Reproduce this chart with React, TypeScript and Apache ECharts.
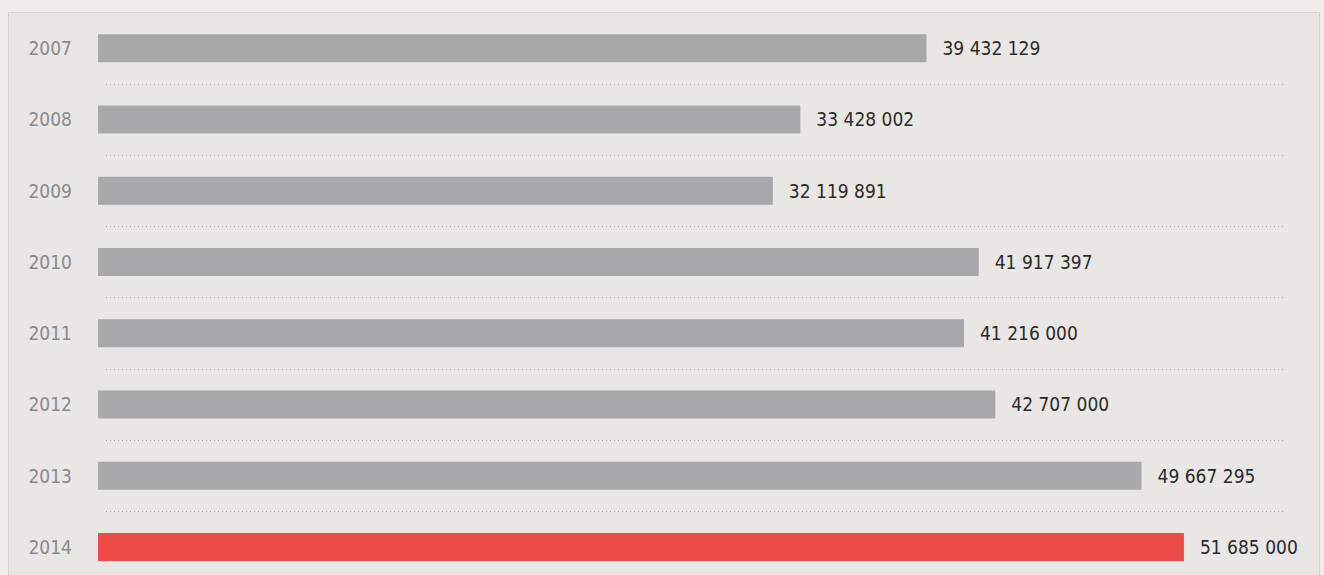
import React, { useEffect, useRef } from "react";
import * as echarts from "echarts";

const years = ["2007", "2008", "2009", "2010", "2011", "2012", "2013", "2014"];
const values = [39432129, 33428002, 32119891, 41917397, 41216000, 42707000, 49667295, 51685000];
const highlightYear = "2014";

const fmt = (v: number) => String(v).replace(/\B(?=(\d{3})+(?!\d))/g, " ");

export default function App() {
  const ref = useRef<HTMLDivElement>(null);
  useEffect(() => {
    if (!ref.current) return;
    const chart = echarts.init(ref.current, undefined, { renderer: "svg" });
    chart.setOption({
      animation: false,
      backgroundColor: "#efeeec",
      graphic: [
        {
          type: "rect",
          shape: { x: 8.5, y: 12.5, width: 1311, height: 600 },
          style: { fill: "#e8e7e5", stroke: "#d3d2d0", lineWidth: 1 },
          z: -10,
          silent: true,
        },
      ],
      grid: [
        { left: 98, width: 1185, top: 12.5, height: 570, outerBoundsMode: "none" },
        { left: 106, width: 1177, top: 12.5, height: 570, outerBoundsMode: "none" },
      ],
      xAxis: [
        { type: "value", gridIndex: 0, min: 0, max: 56400000, show: false, splitLine: { show: false } },
        { type: "value", gridIndex: 1, min: 0, max: 1, show: false, splitLine: { show: false } },
      ],
      yAxis: [
        {
          type: "category",
          gridIndex: 0,
          data: years,
          inverse: true,
          axisLine: { show: false },
          axisTick: { show: false },
          splitLine: { show: false },
          axisLabel: {
            margin: 26,
            color: "#8a8a8a",
            fontSize: 19,
            fontFamily: "DejaVu Sans Condensed, DejaVu Sans, sans-serif",
          },
        },
        {
          type: "category",
          gridIndex: 1,
          data: years,
          inverse: true,
          axisLine: { show: false },
          axisTick: { show: false },
          axisLabel: { show: false },
          splitLine: {
            show: true,
            interval: (i: number) => i > 0,
            lineStyle: { color: "#acacac", width: 1, type: [1, 3] },
          },
        },
      ],
      series: [
        {
          type: "bar",
          xAxisIndex: 0,
          yAxisIndex: 0,
          barWidth: 28,
          data: values.map((v, i) => ({
            value: v,
            itemStyle: {
              color: years[i] === highlightYear ? "#ee4c48" : "#a8a7a9",
            },
          })),
          label: {
            show: true,
            position: "right",
            distance: 16,
            color: "#2b2b2b",
            fontSize: 19,
            fontFamily: "DejaVu Sans Condensed, DejaVu Sans, sans-serif",
            formatter: (p: any) => fmt(p.value),
          },
        },
      ],
    });
    return () => chart.dispose();
  }, []);
  return (
    <div
      ref={ref}
      style={{ position: "fixed", left: 0, top: 0, width: 1324, height: 600 }}
    />
  );
}
